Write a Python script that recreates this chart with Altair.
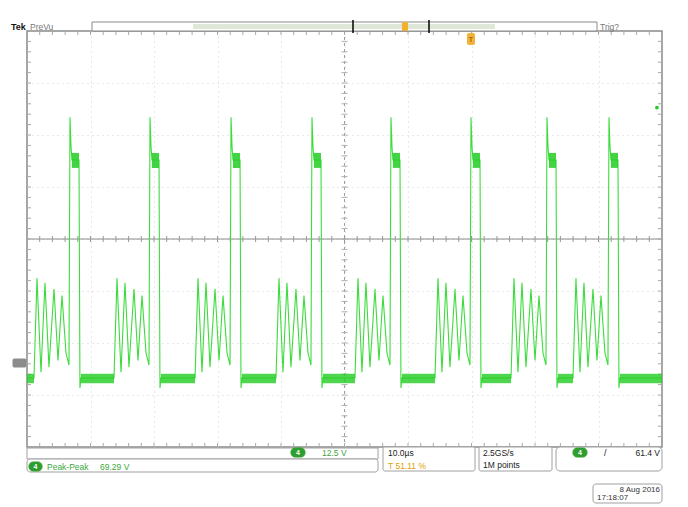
import altair as alt
import pandas as pd

FONT = "Liberation Sans"

# ---------------- data ----------------
# time in microseconds from left edge of screen (10 us/div), voltage in volts (12.5 V/div)
spike_t = [6.77, 19.37, 32.13, 44.88, 57.32, 69.92, 81.89, 91.65]
# shape of one switching cycle relative to its spike (us offset, volts)
cycle_dt = [-5.67, -5.20, -4.57, -3.94, -3.31, -2.52, -1.89, -1.26, -0.63, -0.16,
            0.00, 0.16, 0.31, 1.42, 1.57, 1.73]
cycle_v = [-3.6, 20.4, -2.2, 19.3, -1.0, 17.8, 0.6, 16.2, 2.4, -0.5,
           59.1, 52.0, 48.8, 48.8, -6.0, -3.6]
low_level = -3.6
low_band = [-4.85, -2.60]       # noise band on the low level
plateau_band = [46.9, 50.5]     # noise band on the high plateau
trigger_level = 61.4
trigger_time = 69.92
x_domain = [0, 100]
y_domain = [-20.19, 79.81]
x_grid = [10, 20, 30, 40, 50, 60, 70, 80, 90]
y_grid = [-7.69, 4.81, 17.31, 29.81, 42.31, 54.81, 67.31]

# ---------------- build tables ----------------
t_pts, v_pts = [x_domain[0]], [low_level]
for s in spike_t:
    for dt, v in zip(cycle_dt, cycle_v):
        t_pts.append(round(s + dt, 3))
        v_pts.append(v)
t_pts.append(x_domain[1])
v_pts.append(low_level)
trace = pd.DataFrame({"t": t_pts, "v": v_pts, "i": range(len(t_pts))})

starts = [x_domain[0]] + [s + cycle_dt[-1] for s in spike_t]
ends = [s + cycle_dt[0] for s in spike_t] + [x_domain[1]]
low_df = pd.DataFrame({"t1": starts, "t2": ends, "v1": low_band[0], "v2": low_band[1]})
plat_df = pd.DataFrame({"t1": [s + cycle_dt[12] for s in spike_t],
                        "t2": [s + cycle_dt[13] for s in spike_t],
                        "v1": plateau_band[0], "v2": plateau_band[1]})

xt = pd.DataFrame({"t": [k * 2 for k in range(1, 50)]})
yt = pd.DataFrame({"v": [round(y_domain[0] + k * 2.5, 2) for k in range(1, 40)]})
trig_df = pd.DataFrame({"t": [99.2], "v": [trigger_level]})

dummy = pd.DataFrame({"a": [0]})

X0, Y0 = 27, 31  # page position of plot origin
W, H = 635, 416

xs = alt.Scale(domain=x_domain, nice=False, zero=False)
ys = alt.Scale(domain=y_domain, nice=False, zero=False)


def txt(s, x, y, color="#333333", size=9, weight="normal", align="left"):
    return alt.Chart(dummy).mark_text(
        text=s, color=color, fontSize=size, fontWeight=weight, align=align,
        baseline="middle", font=FONT
    ).encode(x=alt.value(x - X0), y=alt.value(y - Y0))


def box(x1, y1, x2, y2, fill="white", stroke="#9a9a9a", r=0, sw=1.0):
    return alt.Chart(dummy).mark_rect(
        fill=fill, stroke=stroke, strokeWidth=sw, cornerRadius=r
    ).encode(x=alt.value(x1 - X0), x2=alt.value(x2 - X0),
             y=alt.value(y1 - Y0), y2=alt.value(y2 - Y0))


def vline(x, y1, y2, color="#000000", sw=1.5):
    return alt.Chart(dummy).mark_rule(color=color, strokeWidth=sw).encode(
        x=alt.value(x - X0), y=alt.value(y1 - Y0), y2=alt.value(y2 - Y0))


layers = []

# grid via axes (drawn behind marks)
base = alt.Chart(trace).mark_line(color="#3ddc3d", strokeWidth=1.1).encode(
    x=alt.X("t:Q", scale=xs, axis=alt.Axis(values=x_grid, grid=True, gridColor="#d0d0d0",
                                           gridDash=[1, 4], labels=False, ticks=False,
                                           domain=False, title=None)),
    y=alt.Y("v:Q", scale=ys, axis=alt.Axis(values=y_grid, grid=True, gridColor="#d0d0d0",
                                           gridDash=[1, 4], labels=False, ticks=False,
                                           domain=False, title=None)),
    order="i:Q",
)

# centre cross
layers.append(alt.Chart(dummy).mark_rule(color="#8a8a8a", strokeWidth=1).encode(
    x=alt.value(0), x2=alt.value(W), y=alt.value(H / 2)))
layers.append(alt.Chart(dummy).mark_rule(color="#a0a0a0", strokeWidth=1, strokeDash=[3, 3]).encode(
    x=alt.value(W / 2), y=alt.value(0), y2=alt.value(H)))
layers.append(alt.Chart(xt).mark_rule(color="#999999").encode(
    x=alt.X("t:Q", scale=xs), y=alt.value(H / 2 - 3), y2=alt.value(H / 2 + 3)))
layers.append(alt.Chart(yt).mark_rule(color="#b0b0b0").encode(
    y=alt.Y("v:Q", scale=ys), x=alt.value(W / 2 - 3), x2=alt.value(W / 2 + 3)))
# edge ticks
layers.append(alt.Chart(xt).mark_rule(color="#aaaaaa").encode(
    x=alt.X("t:Q", scale=xs), y=alt.value(H - 4), y2=alt.value(H)))
layers.append(alt.Chart(xt).mark_rule(color="#aaaaaa").encode(
    x=alt.X("t:Q", scale=xs), y=alt.value(0), y2=alt.value(4)))
layers.append(alt.Chart(yt).mark_rule(color="#aaaaaa").encode(
    y=alt.Y("v:Q", scale=ys), x=alt.value(0), x2=alt.value(4)))
layers.append(alt.Chart(yt).mark_rule(color="#aaaaaa").encode(
    y=alt.Y("v:Q", scale=ys), x=alt.value(W - 4), x2=alt.value(W)))

# waveform
layers.append(base)
layers.append(alt.Chart(low_df).mark_rect(color="#22cc22", opacity=0.8).encode(
    x=alt.X("t1:Q", scale=xs), x2="t2:Q", y=alt.Y("v1:Q", scale=ys), y2="v2:Q"))
layers.append(alt.Chart(plat_df).mark_rect(color="#22cc22", opacity=0.85).encode(
    x=alt.X("t1:Q", scale=xs), x2="t2:Q", y=alt.Y("v1:Q", scale=ys), y2="v2:Q"))
layers.append(alt.Chart(trig_df).mark_point(filled=True, color="#22cc22", size=14, opacity=1).encode(
    x=alt.X("t:Q", scale=xs), y=alt.Y("v:Q", scale=ys)))

# ground marker on the left
layers.append(box(13, 359, 26, 367, fill="#8c8c8c", stroke="#8c8c8c", r=1))

# top record bar
layers.append(txt("Tek", 11, 27, color="#111111", size=9, weight="bold"))
layers.append(txt("PreVu", 30, 27, color="#777777", size=8.5))
layers.append(box(92, 22, 597, 31, stroke="#8a8a8a"))
layers.append(box(193, 24, 495, 29, fill="#dfe7d9", stroke="#dfe7d9", sw=0))
layers.append(vline(353, 20, 33))
layers.append(vline(429, 20, 33))
layers.append(box(402, 22, 408, 31, fill="#f0b030", stroke="#f0b030", sw=0, r=1))
layers.append(txt("Trig?", 600, 27, color="#777777", size=8.5))
# trigger position marker
layers.append(box(467, 33, 475, 45, fill="#f2b23a", stroke="#f2b23a", sw=0, r=2))
layers.append(txt("T", 471, 40, color="#a86a00", size=7, weight="bold", align="center"))

# bottom readouts
layers.append(box(27, 448, 378, 459, stroke="#a0a0a0"))
layers.append(box(27, 459, 378, 472, stroke="#a0a0a0", r=3))
layers.append(box(291, 448, 305, 457, fill="#2e9e2e", stroke="#2e9e2e", r=4))
layers.append(txt("4", 298, 453, color="white", size=7, weight="bold", align="center"))
layers.append(txt("12.5 V", 322, 453, color="#3aa83a", size=8.5))
layers.append(box(29, 462, 42, 471, fill="#2e9e2e", stroke="#2e9e2e", r=4))
layers.append(txt("4", 35.5, 466.5, color="white", size=7, weight="bold", align="center"))
layers.append(txt("Peak-Peak", 47, 466.5, color="#3aa83a", size=8.5))
layers.append(txt("69.29 V", 100, 466.5, color="#3aa83a", size=8.5))

layers.append(box(383, 447, 475, 471, stroke="#a0a0a0", r=2))
layers.append(txt("10.0µs", 388, 453, color="#222222", size=8.5))
layers.append(txt("T 51.11 %", 388, 466, color="#e0a000", size=8.5))

layers.append(box(479, 447, 552, 471, stroke="#a0a0a0", r=2))
layers.append(txt("2.5GS/s", 483, 453, color="#222222", size=8.5))
layers.append(txt("1M points", 483, 465, color="#222222", size=8.5))

layers.append(box(556, 447, 662, 471, stroke="#a0a0a0", r=4))
layers.append(box(573, 448, 587, 457, fill="#2e9e2e", stroke="#2e9e2e", r=4))
layers.append(txt("4", 580, 453, color="white", size=7, weight="bold", align="center"))
layers.append(txt("/", 604, 453, color="#222222", size=9))
layers.append(txt("61.4 V", 660, 453, color="#222222", size=8.5, align="right"))

layers.append(box(593, 484, 662, 503, stroke="#a0a0a0", r=3))
layers.append(txt("8 Aug 2016", 660, 489.5, color="#333333", size=8, align="right"))
layers.append(txt("17:18:07", 597, 498, color="#333333", size=8))

chart = alt.layer(*layers).properties(
    width=W, height=H,
    padding={"left": 19, "top": 23, "right": 18, "bottom": 59},
    autosize=alt.AutoSizeParams(type="none"),
    background="white",
).configure_view(stroke="#8a8a8a", strokeWidth=1.5)

chart.save("out.html", embed_options={"renderer": "svg", "actions": False})
